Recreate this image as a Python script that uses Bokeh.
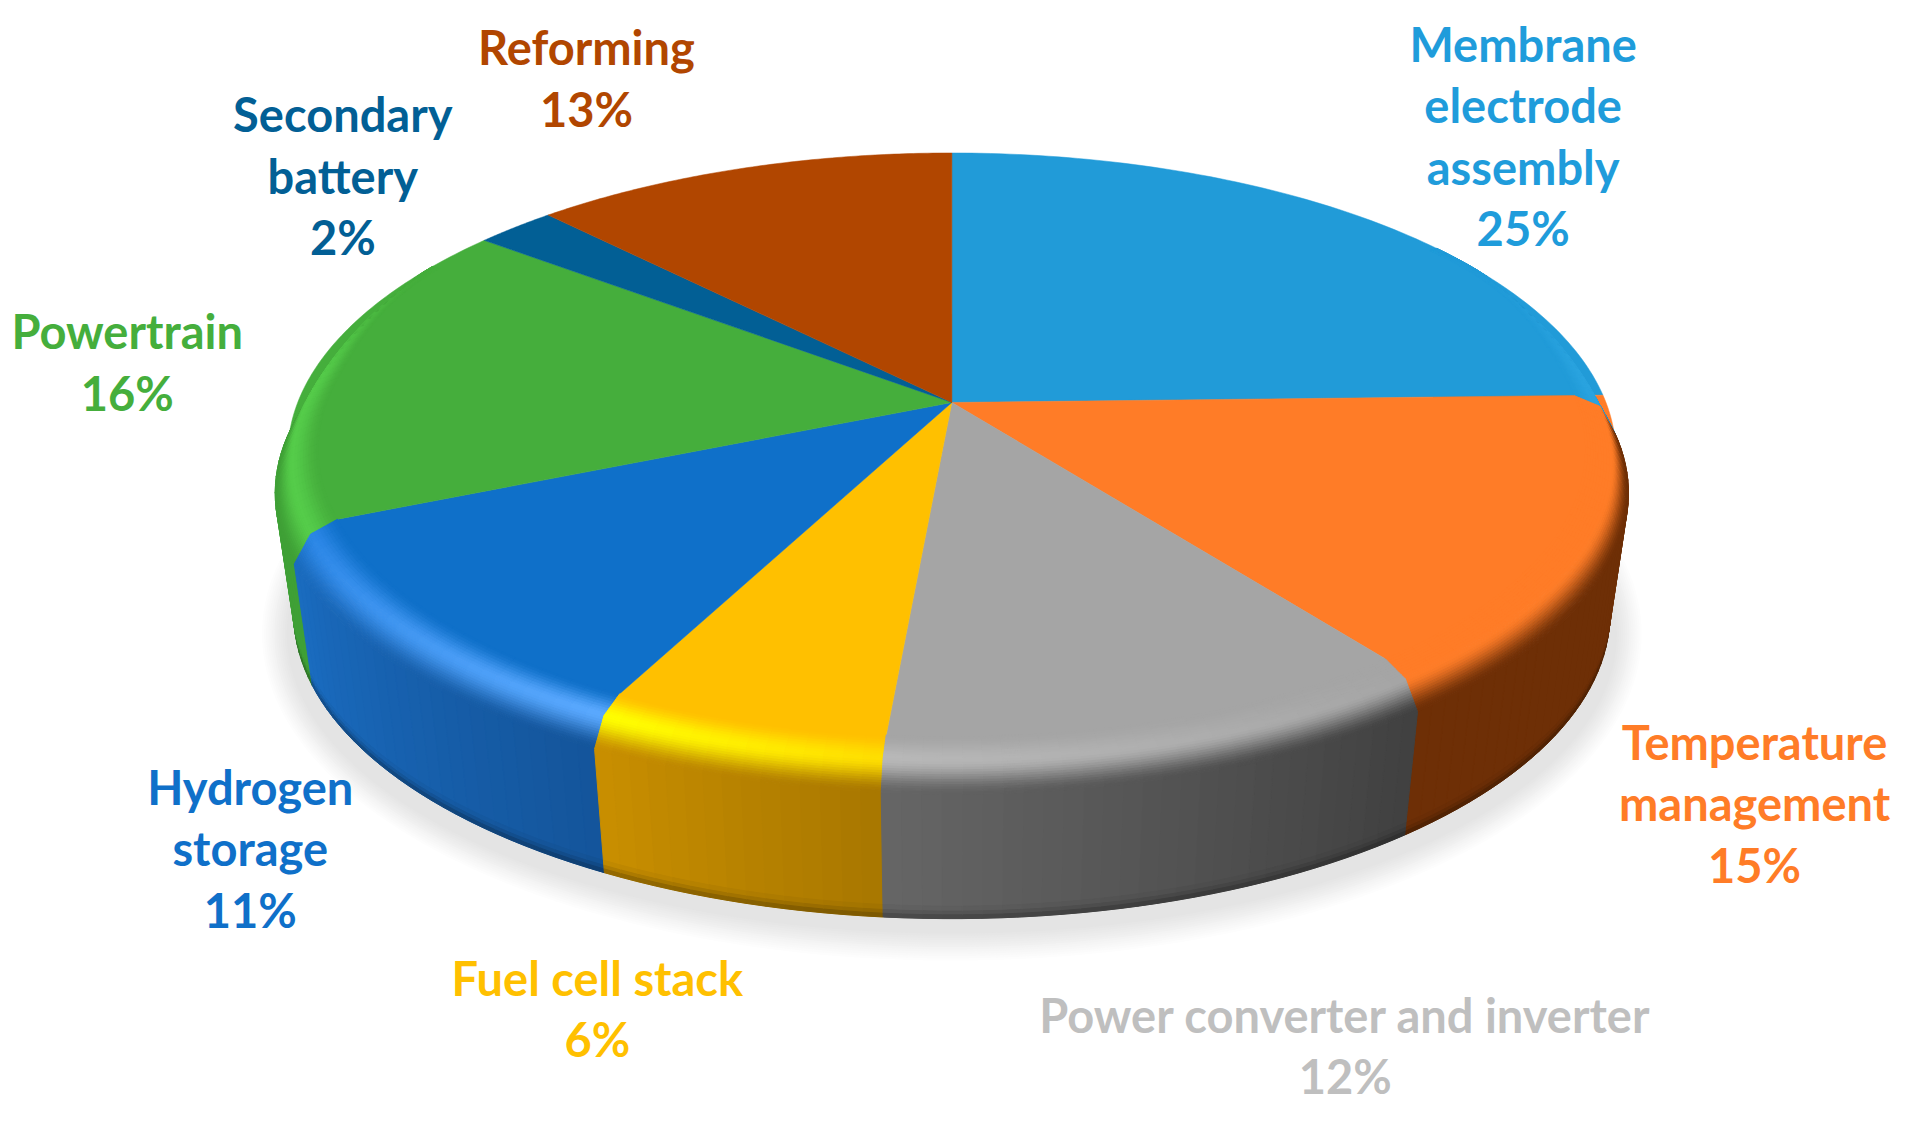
import numpy as np
from bokeh.plotting import figure
from bokeh.models import Range1d, ColumnDataSource
from bokeh.core.properties import value
from bokeh.embed import file_html
from bokeh.resources import INLINE

# ---- data -------------------------------------------------------------
names = ["Membrane\nelectrode\nassembly", "Temperature\nmanagement", "Power converter and inverter",
         "Fuel cell stack", "Hydrogen\nstorage", "Powertrain", "Secondary\nbattery", "Reforming"]
percent_labels = [25, 15, 12, 6, 11, 16, 2, 13]
# angular share of every slice as it is drawn in the picture
slice_shares = [24.6, 15.1, 11.7, 6.1, 11.1, 16.9, 2.3, 12.2]
face_colors = ["#219bd8", "#ff7c27", "#a5a5a5", "#ffc000", "#0f70c9", "#45ae3c", "#025f95", "#b14600"]
label_colors = ["#1f9cdb", "#ff7c27", "#bfbfbf", "#ffc000", "#0f70c9", "#45ae3c", "#025f95", "#b14600"]
wall_start = ["#1f8bc7", "#6e2f06", "#404040", "#a87700", "#14559b", "#3fa036", "#025f95", "#b14600"]
wall_end = ["#1f8bc7", "#6e2f06", "#666666", "#c98f00", "#1a6cc0", "#3fa036", "#025f95", "#b14600"]
shine_start = ["#2aa4e0", "#ff7c27", "#a5a5a5", "#ffdd00", "#5aa9ff", "#55cc4a", "#025f95", "#b14600"]
shine_end = ["#2aa4e0", "#ff7c27", "#b8b8b8", "#ffff00", "#2a86e6", "#55cc4a", "#025f95", "#b14600"]
label_x = [1250, 1440, 1104, 490, 205, 104, 281, 481]
label_y = [35.5, 608.5, 832.5, 802.5, 645.5, 271.5, 93.5, 38.5]
LINE = 50.4

# ---- projection --------------------------------------------------------
U = 1910 / 1568
CX, CY, RX, RY, K = 781.0, 330.0, 537.0, 240.0, 0.1717

def proj(theta, r=1.0, sx=1.0, sy=1.0, dy=0.0):
    x, y = r * np.sin(theta), r * np.cos(theta)
    d = 1 + K * y
    return CX + RX * sx * x / d, CY - RY * sy * y / d + dy

def hex2rgb(h):
    return np.array([int(h[i:i + 2], 16) for i in (1, 3, 5)], dtype=float)

def rgb2hex(c):
    c = np.clip(np.round(c), 0, 255).astype(int)
    return "#%02x%02x%02x" % tuple(c)

def smooth(a, b, t):
    u = np.clip((t - a) / (b - a), 0, 1)
    return u * u * (3 - 2 * u)

bounds = np.radians(np.concatenate([[0], np.cumsum(slice_shares)]) * 3.6)

p = figure(width=1894, height=1106, output_backend="svg", toolbar_location=None,
           x_range=Range1d(0, 1894 / U), y_range=Range1d(1106 / U, 0),
           min_border=0, outline_line_color=None, background_fill_color="white")
p.axis.visible = False
p.grid.visible = False

# ---- soft shadow -------------------------------------------------------
tt = np.linspace(0, 2 * np.pi, 240)
n_sh = 14
for i in range(n_sh):
    f = i / (n_sh - 1)
    a = 568 - 22 * f
    b = 270 - 24 * f
    col = rgb2hex(np.array([255, 255, 255]) * (1 - f) + np.array([228, 228, 228]) * f)
    p.patch(781 + a * np.cos(tt), 520 + b * np.sin(tt), fill_color=col, line_color=None)

# ---- side wall and bevel ------------------------------------------------
def fade(th):
    d = np.degrees(th)
    return float(smooth(60, 85, d) * (1 - smooth(275, 300, d)))

def cols(i, th):
    t = (th - bounds[i]) / (bounds[i + 1] - bounds[i])
    wall = hex2rgb(wall_start[i]) * (1 - t) + hex2rgb(wall_end[i]) * t
    shine = hex2rgb(shine_start[i]) * (1 - t) + hex2rgb(shine_end[i]) * t
    return hex2rgb(face_colors[i]), shine, wall

STEP = np.radians(1.5)
xs_w, ys_w, c_w, key_w = [], [], [], []
xs_b, ys_b, c_b, key_b = [], [], [], []
# (r, sx, sy, dy) key curves from the flat face to the wall foot
BEV = [(0.955, 1.0, 1, 0), (0.985, 1.01, 1, 9), (1.0, 1.019, 1, 32)]
FOOT = (1.0, 0.991, 1.012, 130.5)

def curve(th, q, f):
    r0, sx, sy, dy = q
    if f < 1 and sy == 1:
        r0 = 1 - (1 - r0) * (0.35 + 0.65 * f)
        dy = dy * f
        sx = 1 + (sx - 1) * f
    return proj(th, r0, sx, sy, dy)

def mix(a, b, t):
    return tuple(a[j] * (1 - t) + b[j] * t for j in range(4))

base_x, base_y, base_c = [], [], []
for i in range(len(slice_shares)):
    a0, a1 = bounds[i], bounds[i + 1]
    n = max(2, int(np.ceil((a1 - a0) / STEP)))
    edges = np.linspace(a0, a1, n + 1)
    lo, hi = max(np.degrees(a0), 55), min(np.degrees(a1), 300)
    if hi > lo:
        th = np.radians(np.linspace(lo, hi, 60))
        xt, yt = zip(*[curve(t, BEV[2], fade(t)) for t in th])
        xf, yf = proj(th, FOOT[0], FOOT[1], FOOT[2], FOOT[3])
        base_x.append(list(xt) + xf[::-1].tolist())
        base_y.append(list(yt) + yf[::-1].tolist())
        base_c.append(rgb2hex((hex2rgb(wall_start[i]) + hex2rgb(wall_end[i])) / 2))
    for th0, th1 in zip(edges[:-1], edges[1:]):
        mid = (th0 + th1) / 2
        deg = np.degrees(mid)
        if deg < 55 or deg > 300:
            continue
        f = fade(mid)
        face, shine, wall = cols(i, mid)
        order = abs(deg - 180)
        # wall: main body and darkened foot
        top = BEV[2]
        stops = [(0.0, 1.0), (0.90, 1.0), (0.94, 0.92), (0.97, 0.82), (1.0, 0.66)]
        for (t0, m0), (t1, m1) in zip(stops[:-1], stops[1:]):
            q0, q1 = mix(top, FOOT, t0), mix(top, FOOT, t1)
            x00, y00 = curve(th0, q0, 1.0 if t0 > 0 else fade(th0))
            x01, y01 = curve(th1, q0, 1.0 if t0 > 0 else fade(th1))
            x10, y10 = curve(th1, q1, 1.0)
            x11, y11 = curve(th0, q1, 1.0)
            xs_w.append([x00, x01, x10, x11])
            ys_w.append([y00, y01, y10, y11])
            c_w.append(rgb2hex(wall * (m0 + m1) / 2))
            key_w.append(order)
        # bevel: flat face -> shine -> wall
        segs = [(BEV[0], BEV[1], face, shine, 10), (BEV[1], BEV[2], shine, wall, 14)]
        for qa, qb, ca, cb, m in segs:
            for j in range(m):
                s0, s1 = j / m, (j + 1) / m
                s_c = (s0 + s1) / 2
                ss = s_c * s_c * (3 - 2 * s_c)
                colr = ca * (1 - ss) + cb * ss
                colr = face * (1 - f) + colr * f
                q0, q1 = mix(qa, qb, s0), mix(qa, qb, s1)
                f0, f1 = fade(th0), fade(th1)
                x00, y00 = curve(th0, q0, f0)
                x01, y01 = curve(th1, q0, f1)
                x10, y10 = curve(th1, q1, f1)
                x11, y11 = curve(th0, q1, f0)
                xs_b.append([x00, x01, x10, x11])
                ys_b.append([y00, y01, y10, y11])
                c_b.append(rgb2hex(colr))
                key_b.append(order)

def draw_quads(xs, ys, c, key, lw):
    idx = np.argsort(-np.array(key), kind="stable")
    src = ColumnDataSource(dict(xs=[xs[i] for i in idx], ys=[ys[i] for i in idx], c=[c[i] for i in idx]))
    p.patches("xs", "ys", source=src, fill_color="c", line_color="c", line_width=lw)

p.patches(base_x, base_y, fill_color=base_c, line_color=base_c, line_width=0.5)
draw_quads(xs_w, ys_w, c_w, key_w, 1.0)

# ---- flat top face ------------------------------------------------------
fx, fy = [], []
for i in range(len(slice_shares)):
    th = np.linspace(bounds[i], bounds[i + 1], 90)
    x, y = proj(th)
    fx.append(np.concatenate([[CX], x]).tolist())
    fy.append(np.concatenate([[CY], y]).tolist())
p.patches(fx, fy, fill_color=face_colors, line_color=face_colors, line_width=0.5)

draw_quads(xs_b, ys_b, c_b, key_b, 1.0)

# ---- labels ------------------------------------------------------------
tx, ty, tt_, tc = [], [], [], []
for nm, pct, lx, ly, col in zip(names, percent_labels, label_x, label_y, label_colors):
    lines = nm.split("\n") + [f"{pct}%"]
    for j, ln in enumerate(lines):
        tx.append(lx)
        ty.append(ly + j * LINE)
        tt_.append(ln)
        tc.append(col)
p.text(tx, ty, text=tt_, text_color=tc, text_font=value("Lato"), text_font_style="bold",
       text_font_size="47px", text_align="center", text_baseline="middle")

open("out.html", "w").write(file_html(p, INLINE))
